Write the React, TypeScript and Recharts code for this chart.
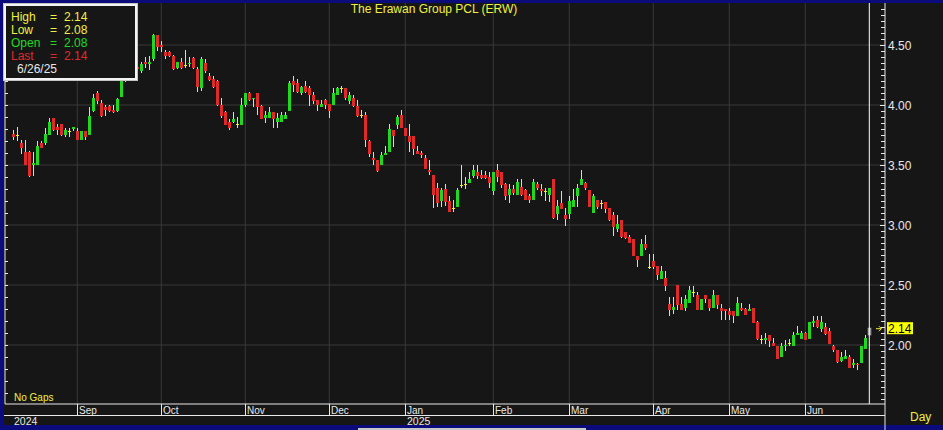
import { ComposedChart, Bar, XAxis, YAxis, CartesianGrid, ReferenceLine } from "recharts"

// daily OHLC, Aug 2024 -> 26 Jun 2025
const opens = [
    3.76, 3.75, 3.68, 3.61, 3.61, 3.5, 3.5, 3.68, 3.68, 3.75,
    3.89, 3.82, 3.84, 3.75, 3.78, 3.8, 3.78, 3.71, 3.78, 3.75,
    3.95, 4.1, 4.02, 3.98, 3.99, 3.96, 3.95, 4.07, 4.21, 4.28,
    4.34, 4.32, 4.28, 4.36, 4.34, 4.38, 4.58, 4.5, 4.44, 4.44,
    4.41, 4.31, 4.36, 4.33, 4.34, 4.39, 4.3, 4.14, 4.35, 4.24,
    4.22, 4.2, 4.0, 3.94, 3.86, 3.86, 3.84, 3.83, 4.0, 4.1,
    4.05, 4.1, 3.99, 3.89, 3.89, 3.94, 3.86, 3.86, 3.88, 3.95,
    4.2, 4.18, 4.1, 4.16, 4.14, 4.08, 4.04, 3.98, 4.04, 4.01,
    4.0, 4.08, 4.14, 4.14, 4.03, 4.06, 3.99, 3.92, 3.92, 3.7,
    3.56, 3.54, 3.5, 3.58, 3.61, 3.79, 3.83, 3.92, 3.81, 3.74,
    3.74, 3.62, 3.6, 3.56, 3.46, 3.42, 3.31, 3.2, 3.3, 3.2,
    3.14, 3.15, 3.33, 3.34, 3.35, 3.41, 3.44, 3.42, 3.42, 3.4,
    3.28, 3.46, 3.44, 3.34, 3.25, 3.3, 3.25, 3.32, 3.29, 3.24,
    3.21, 3.34, 3.3, 3.28, 3.25, 3.38, 3.09, 3.18, 3.08, 3.09,
    3.15, 3.24, 3.33, 3.35, 3.29, 3.1, 3.21, 3.18, 3.19, 3.14,
    3.08, 2.97, 3.04, 2.94, 2.9, 2.88, 2.74, 2.74, 2.84, 2.65,
    2.7, 2.66, 2.55, 2.56, 2.34, 2.29, 2.5, 2.34, 2.31, 2.35,
    2.44, 2.42, 2.29, 2.42, 2.38, 2.31, 2.42, 2.31, 2.3, 2.28,
    2.28, 2.24, 2.31, 2.3, 2.28, 2.31, 2.19, 2.05, 2.04, 2.08,
    2.02, 1.99, 1.9, 1.99, 2.02, 1.99, 2.08, 2.05, 2.1, 2.05,
    2.18, 2.21, 2.13, 2.15, 2.12, 1.99, 1.96, 1.87, 1.88, 1.9,
    1.83, 1.84, 1.85, 1.97, 2.08,
]
const highs = [
    3.79, 3.82, 3.71, 3.71, 3.62, 3.61, 3.7, 3.7, 3.81, 3.89,
    3.89, 3.84, 3.84, 3.81, 3.81, 3.82, 3.81, 3.78, 3.78, 3.98,
    4.09, 4.12, 4.04, 4.0, 4.0, 4.0, 4.06, 4.23, 4.3, 4.36,
    4.37, 4.38, 4.36, 4.4, 4.41, 4.59, 4.58, 4.53, 4.46, 4.45,
    4.42, 4.36, 4.39, 4.46, 4.4, 4.4, 4.32, 4.4, 4.38, 4.27,
    4.24, 4.21, 4.06, 3.95, 3.88, 3.94, 3.9, 4.06, 4.1, 4.11,
    4.06, 4.1, 4.0, 3.95, 3.98, 3.94, 3.93, 3.94, 3.94, 4.2,
    4.24, 4.22, 4.16, 4.2, 4.16, 4.11, 4.04, 4.04, 4.05, 4.01,
    4.14, 4.15, 4.16, 4.14, 4.11, 4.08, 4.04, 3.96, 3.94, 3.71,
    3.61, 3.54, 3.61, 3.66, 3.84, 3.79, 3.92, 3.96, 3.81, 3.84,
    3.74, 3.66, 3.62, 3.58, 3.54, 3.42, 3.35, 3.31, 3.34, 3.24,
    3.21, 3.31, 3.5, 3.4, 3.44, 3.5, 3.5, 3.46, 3.45, 3.44,
    3.44, 3.51, 3.44, 3.35, 3.34, 3.33, 3.38, 3.38, 3.3, 3.26,
    3.38, 3.36, 3.34, 3.31, 3.31, 3.38, 3.21, 3.28, 3.14, 3.24,
    3.3, 3.34, 3.46, 3.36, 3.29, 3.26, 3.21, 3.21, 3.19, 3.14,
    3.11, 3.08, 3.04, 2.94, 2.92, 2.88, 2.74, 2.88, 2.92, 2.76,
    2.76, 2.66, 2.66, 2.62, 2.4, 2.4, 2.5, 2.4, 2.42, 2.49,
    2.49, 2.44, 2.38, 2.42, 2.38, 2.46, 2.42, 2.34, 2.3, 2.31,
    2.28, 2.4, 2.35, 2.31, 2.34, 2.31, 2.2, 2.08, 2.1, 2.08,
    2.06, 1.99, 2.02, 2.04, 2.05, 2.11, 2.16, 2.12, 2.11, 2.19,
    2.24, 2.24, 2.24, 2.18, 2.14, 2.0, 1.96, 1.94, 1.96, 1.92,
    1.88, 1.85, 1.99, 2.08, 2.14,
]
const lows = [
    3.71, 3.7, 3.59, 3.5, 3.4, 3.41, 3.5, 3.64, 3.67, 3.75,
    3.78, 3.75, 3.74, 3.73, 3.73, 3.78, 3.71, 3.71, 3.71, 3.75,
    3.94, 4.01, 3.9, 3.91, 3.94, 3.93, 3.94, 4.07, 4.19, 4.26,
    4.3, 4.28, 4.27, 4.31, 4.29, 4.37, 4.45, 4.44, 4.38, 4.4,
    4.29, 4.3, 4.3, 4.31, 4.32, 4.3, 4.11, 4.12, 4.27, 4.2,
    4.14, 3.99, 3.89, 3.83, 3.79, 3.85, 3.81, 3.83, 3.98, 4.03,
    3.98, 3.92, 3.88, 3.85, 3.89, 3.81, 3.81, 3.86, 3.88, 3.95,
    4.11, 4.1, 4.08, 4.1, 3.99, 4.01, 3.95, 3.98, 3.97, 3.89,
    4.0, 4.08, 4.1, 4.04, 4.01, 3.98, 3.9, 3.89, 3.65, 3.57,
    3.5, 3.44, 3.5, 3.58, 3.61, 3.65, 3.8, 3.81, 3.74, 3.61,
    3.58, 3.59, 3.56, 3.47, 3.42, 3.14, 3.15, 3.15, 3.16, 3.11,
    3.11, 3.15, 3.31, 3.3, 3.35, 3.39, 3.38, 3.38, 3.38, 3.31,
    3.25, 3.36, 3.31, 3.21, 3.18, 3.25, 3.25, 3.24, 3.21, 3.18,
    3.21, 3.29, 3.24, 3.2, 3.19, 3.05, 3.04, 3.13, 2.99, 3.05,
    3.15, 3.15, 3.33, 3.29, 3.15, 3.1, 3.13, 3.13, 3.1, 3.03,
    2.91, 2.94, 2.89, 2.88, 2.85, 2.74, 2.65, 2.74, 2.79, 2.63,
    2.63, 2.54, 2.55, 2.45, 2.24, 2.26, 2.29, 2.29, 2.28, 2.35,
    2.4, 2.29, 2.29, 2.35, 2.28, 2.31, 2.3, 2.21, 2.21, 2.21,
    2.18, 2.24, 2.28, 2.25, 2.28, 2.18, 2.04, 2.01, 2.01, 1.98,
    1.99, 1.88, 1.9, 1.95, 1.99, 1.99, 2.08, 2.05, 2.04, 2.05,
    2.15, 2.14, 2.11, 2.08, 2.01, 1.94, 1.85, 1.86, 1.88, 1.81,
    1.81, 1.79, 1.85, 1.97, 2.08,
]
const closes = [
    3.73, 3.75, 3.64, 3.5, 3.41, 3.52, 3.66, 3.64, 3.76, 3.86,
    3.79, 3.79, 3.75, 3.79, 3.78, 3.82, 3.71, 3.78, 3.73, 3.91,
    4.06, 4.03, 3.91, 3.96, 3.95, 3.94, 4.05, 4.2, 4.28, 4.33,
    4.32, 4.3, 4.34, 4.34, 4.36, 4.58, 4.48, 4.48, 4.41, 4.41,
    4.3, 4.36, 4.31, 4.33, 4.35, 4.31, 4.15, 4.38, 4.28, 4.21,
    4.15, 4.0, 3.91, 3.83, 3.81, 3.88, 3.84, 4.0, 4.1, 4.04,
    4.06, 3.98, 3.88, 3.92, 3.94, 3.88, 3.89, 3.92, 3.92, 4.18,
    4.17, 4.11, 4.15, 4.11, 4.08, 4.03, 4.0, 4.01, 4.0, 3.95,
    4.1, 4.14, 4.14, 4.06, 4.08, 3.99, 3.91, 3.92, 3.71, 3.59,
    3.54, 3.45, 3.58, 3.6, 3.8, 3.74, 3.9, 3.81, 3.74, 3.69,
    3.63, 3.59, 3.58, 3.47, 3.44, 3.25, 3.18, 3.29, 3.19, 3.11,
    3.14, 3.29, 3.33, 3.34, 3.38, 3.46, 3.41, 3.39, 3.39, 3.35,
    3.44, 3.4, 3.33, 3.24, 3.3, 3.27, 3.36, 3.25, 3.21, 3.21,
    3.36, 3.31, 3.28, 3.28, 3.31, 3.06, 3.16, 3.13, 3.05, 3.2,
    3.21, 3.31, 3.38, 3.31, 3.15, 3.24, 3.15, 3.18, 3.13, 3.04,
    2.98, 3.01, 2.9, 2.89, 2.85, 2.74, 2.71, 2.84, 2.81, 2.65,
    2.65, 2.58, 2.62, 2.49, 2.29, 2.32, 2.33, 2.29, 2.38, 2.46,
    2.44, 2.29, 2.38, 2.38, 2.31, 2.42, 2.33, 2.28, 2.28, 2.25,
    2.24, 2.35, 2.29, 2.25, 2.3, 2.18, 2.05, 2.05, 2.06, 2.03,
    1.99, 1.88, 1.99, 2.0, 2.02, 2.08, 2.1, 2.1, 2.04, 2.19,
    2.2, 2.15, 2.19, 2.09, 2.01, 1.96, 1.86, 1.9, 1.91, 1.81,
    1.85, 1.83, 1.99, 2.06, 2.14,
]

// index of the first trading day of each month
const monthStarts = [16, 37, 58, 79, 98, 120, 139, 160, 179, 198]
const monthLabels = ["Sep", "Oct", "Nov", "Dec", "Jan", "Feb", "Mar", "Apr", "May", "Jun"]
const priceTicks = [2, 2.5, 3, 3.5, 4, 4.5]

const NAVY = "#0b0b7c"
const BG = "#161616"
const GRID = "#383838"
const GREEN = "#20d820"
const RED = "#e02a2a"
const WICK = "#eeee3c"
const YELLOW = "#f0f040"
const WHITE = "#e8e8e8"
const FONT = "'Liberation Sans', Arial, sans-serif"
const NARROW = "'Liberation Sans Narrow', 'Arial Narrow', 'Liberation Sans', sans-serif"

const lastIdx = closes.length - 1
const xDomain = [-2.075, 217.925]
const yDomain = [4.85 - 401 / 120, 4.85]

const minorRight = Array.from({ length: 66 }, (_, k) => +(1.55 + k * 0.05).toFixed(2))
const minorLeft = Array.from({ length: 33 }, (_, k) => +(1.6 + k * 0.1).toFixed(2))

const data = closes.map((c, i) => ({
    i,
    o: opens[i],
    h: highs[i],
    l: lows[i],
    c,
    range: [lows[i], highs[i]],
}))

function Candle(props: any) {
    const { x, y, width, height, payload } = props
    const { o, h, l, c, i } = payload
    const top = Math.min(y, y + height)
    const hgt = Math.abs(height)
    const k = h > l ? hgt / (h - l) : 0
    const py = (v: number) => top + (h - v) * k
    const cx = Math.round(x + width / 2)
    const yHi = Math.round(py(h))
    const yLo = Math.round(py(l))
    const yTop = Math.round(py(Math.max(o, c)))
    const yBot = Math.round(py(Math.min(o, c)))
    const isLast = i === lastIdx
    const color = isLast ? "#8c8c8c" : c > o ? GREEN : c < o ? RED : WICK
    return (
        <g>
            <rect x={cx} y={yHi} width={1} height={Math.max(1, yLo - yHi)} fill={WICK} />
            {c === o ? (
                <rect x={cx - 1} y={yTop} width={3} height={1} fill={WICK} />
            ) : (
                <rect
                    x={cx - 1}
                    y={yTop}
                    width={3}
                    height={Math.max(1, yBot - yTop)}
                    fill={color}
                    stroke={isLast ? "#b8b8b8" : "none"}
                    strokeWidth={isLast ? 0.5 : 0}
                />
            )}
        </g>
    )
}

function RightTick(props: any) {
    const { x, y, payload } = props
    const v = payload.value
    const major = priceTicks.includes(v)
    const ty = Math.round(y) + 0.5
    return (
        <g>
            <line x1={x - (major ? 5 : 4)} x2={x} y1={ty} y2={ty} stroke={WHITE} />
            {major && (
                <text x={x + 3} y={y + 4.5} fill={WHITE} fontSize={12} fontFamily={FONT}>
                    {v.toFixed(2)}
                </text>
            )}
        </g>
    )
}

function LeftTick(props: any) {
    const { x, y } = props
    const ty = Math.round(y) + 0.5
    return <line x1={x} x2={x + 3} y1={ty} y2={ty} stroke={WHITE} />
}

function MonthTick(props: any) {
    const { x, y, payload } = props
    const idx = monthStarts.indexOf(payload.value)
    const label = monthLabels[idx]
    const lx = Math.round(x) + 0.5
    return (
        <g>
            <line x1={lx} x2={lx} y1={y} y2={y + 11} stroke={WHITE} />
            <text x={lx + 1.5} y={y + 10} fill={WHITE} fontSize={10} fontFamily={NARROW}>
                {label}
            </text>
            {label === "Jan" && (
                <text x={lx + 1.5} y={y + 21} fill={WHITE} fontSize={10.5} fontFamily={NARROW}>
                    2025
                </text>
            )}
        </g>
    )
}

function PriceTag(props: any) {
    const vb = props.viewBox || {}
    const right = (vb.x ?? 0) + (vb.width ?? 0)
    const y = vb.y ?? 0
    return (
        <g>
            <line x1={right - 9} x2={right - 4} y1={y + 0.5} y2={y + 0.5} stroke={YELLOW} />
            <path d={`M${right - 6},${y - 2} L${right - 3.5},${y + 0.5} L${right - 6},${y + 3}`} fill="none" stroke={YELLOW} />
            <rect x={right + 2} y={y - 6} width={26} height={12} fill="#ffff00" />
            <text x={right + 3} y={y + 4.5} fill="#000" fontSize={12} fontFamily={FONT}>
                {closes[lastIdx].toFixed(2)}
            </text>
        </g>
    )
}

export default function App() {
    const last = lastIdx
    return (
        <div
            style={{
                position: "fixed",
                left: 0,
                top: 0,
                width: 943,
                height: 430,
                background: NAVY,
                overflow: "hidden",
            }}
        >
            <div style={{ position: "absolute", left: 4, top: 3, width: 939, height: 422, background: BG }} />
            <div style={{ position: "absolute", left: 358, top: 428, width: 228, height: 2, background: "#c8c8c8" }} />
            <div style={{ position: "absolute", left: 0, top: 0 }}>
                <ComposedChart
                    width={943}
                    height={430}
                    data={data}
                    margin={{ top: 3, right: 0, bottom: 0, left: 4 }}
                >
                    <CartesianGrid
                        stroke={GRID}
                        horizontalValues={priceTicks}
                        verticalValues={monthStarts}
                    />
                    <XAxis
                        dataKey="i"
                        type="number"
                        domain={xDomain}
                        allowDataOverflow
                        ticks={monthStarts}
                        interval={0}
                        height={26}
                        tickSize={0}
                        tickMargin={0}
                        tickLine={false}
                        axisLine={{ stroke: WHITE }}
                        tick={<MonthTick />}
                    />
                    <YAxis
                        orientation="right"
                        type="number"
                        domain={yDomain}
                        allowDataOverflow
                        ticks={minorRight}
                        interval={0}
                        width={58}
                        tickSize={0}
                        tickMargin={0}
                        tickLine={false}
                        axisLine={{ stroke: WHITE }}
                        tick={<RightTick />}
                    />
                    <YAxis
                        yAxisId="left"
                        orientation="left"
                        type="number"
                        domain={yDomain}
                        allowDataOverflow
                        ticks={minorLeft}
                        interval={0}
                        width={1}
                        tickSize={0}
                        tickMargin={0}
                        tickLine={false}
                        axisLine={{ stroke: WHITE }}
                        tick={<LeftTick />}
                    />
                    <ReferenceLine x={last} stroke="#ffffff" />
                    <ReferenceLine y={closes[last]} stroke="none" label={<PriceTag />} />
                    <Bar dataKey="range" barSize={3} shape={<Candle />} isAnimationActive={false} />
                </ComposedChart>
            </div>
            <svg
                width={943}
                height={430}
                style={{ position: "absolute", left: 0, top: 0, pointerEvents: "none" }}
            >
                <line x1={4} x2={885} y1={415.5} y2={415.5} stroke={WHITE} />
                <line x1={885} x2={885} y1={404} y2={430} stroke={WHITE} />
                <text x={434} y={13} fill={YELLOW} fontSize={12} fontFamily={FONT} textAnchor="middle">
                    The Erawan Group PCL (ERW)
                </text>
                <text x={14} y={401} fill={YELLOW} fontSize={10} fontFamily={FONT}>
                    No Gaps
                </text>
                <text x={14} y={425} fill={WHITE} fontSize={10.5} fontFamily={NARROW}>
                    2024
                </text>
                <text x={910} y={421} fill={YELLOW} fontSize={12} fontFamily={FONT}>
                    Day
                </text>
                <rect x={3} y={3} width={135} height={78} fill="#c4c4c4" />
                <rect x={4} y={4} width={133} height={76} fill="#f4f4f4" />
                <rect x={6} y={6} width={129} height={72} fill={BG} />
                <g fontSize={12} fontFamily={FONT}>
                    <text x={11} y={21} fill={YELLOW}>High</text>
                    <text x={50} y={21} fill={YELLOW}>=</text>
                    <text x={64} y={21} fill={YELLOW}>{highs[last].toFixed(2)}</text>
                    <text x={11} y={34} fill={YELLOW}>Low</text>
                    <text x={50} y={34} fill={YELLOW}>=</text>
                    <text x={64} y={34} fill={YELLOW}>{lows[last].toFixed(2)}</text>
                    <text x={11} y={46.5} fill={GREEN}>Open</text>
                    <text x={50} y={46.5} fill={GREEN}>=</text>
                    <text x={64} y={46.5} fill={GREEN}>{opens[last].toFixed(2)}</text>
                    <text x={11} y={59.5} fill={RED}>Last</text>
                    <text x={50} y={59.5} fill={RED}>=</text>
                    <text x={64} y={59.5} fill={RED}>{closes[last].toFixed(2)}</text>
                    <text x={17} y={72.5} fill={WHITE}>6/26/25</text>
                </g>
            </svg>
        </div>
    )
}
